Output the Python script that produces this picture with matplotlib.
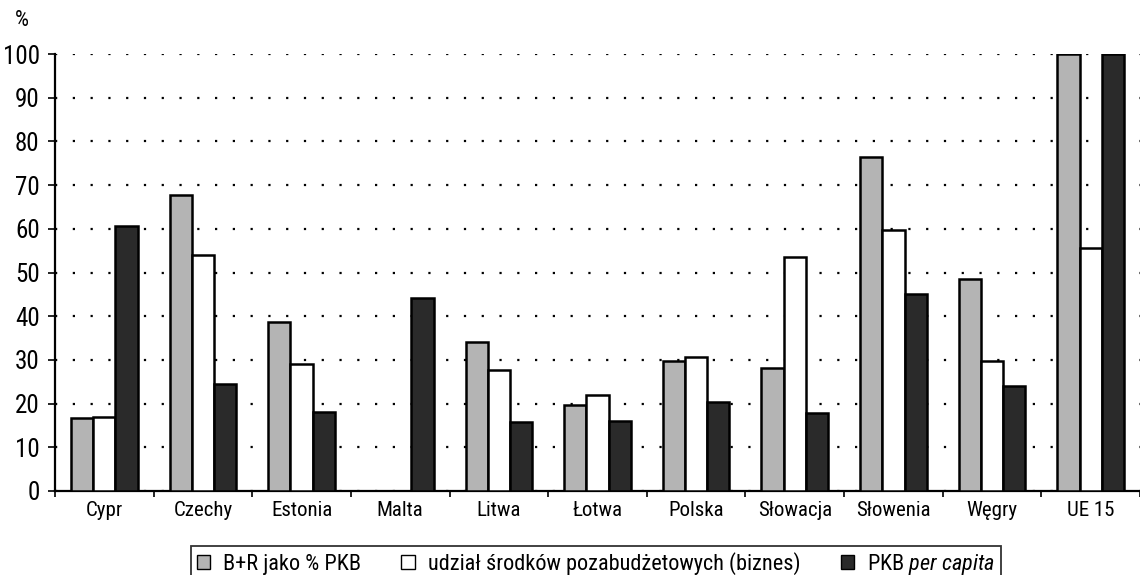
import matplotlib
matplotlib.use("Agg")
import matplotlib.pyplot as plt
import numpy as np
from matplotlib.patches import Patch
from matplotlib import font_manager

categories = ["Cypr", "Czechy", "Estonia", "Malta", "Litwa", "Łotwa", "Polska",
              "Słowacja", "Słowenia", "Węgry", "UE 15"]
br_pkb = [16.6, 67.7, 38.6, 0, 34.0, 19.6, 29.7, 28.2, 76.5, 48.4, 100]
biznes = [17.0, 54.0, 29.0, 0, 27.8, 21.9, 30.7, 53.6, 59.7, 29.7, 55.7]
pkb_pc = [60.6, 24.4, 18.1, 44.1, 15.9, 16.1, 20.4, 17.8, 45.0, 24.0, 100]
yticks = [0, 10, 20, 30, 40, 50, 60, 70, 80, 90, 100]
labels = ["B+R jako % PKB", "udział środków pozabudżetowych (biznes)",
          r"PKB $\mathit{per\ capita}$"]

names = {f.name for f in font_manager.fontManager.ttflist}
fam = "Liberation Sans"
narrow = False
for cand in ["Liberation Sans Narrow", "Roboto Condensed", "DejaVu Sans Condensed",
             "Open Sans Condensed", "Noto Sans Condensed"]:
    if cand in names:
        fam = cand
        narrow = True
        break
plt.rcParams["font.family"] = [fam, "DejaVu Sans"]
plt.rcParams["mathtext.fontset"] = "custom"
plt.rcParams["mathtext.it"] = fam + ":italic"
plt.rcParams["mathtext.rm"] = fam

ysize = 18 if narrow else 16
xsize = 15 if narrow else 14
lsize = 16 if narrow else 13.5

fig = plt.figure(figsize=(11.4, 5.75), dpi=100)
ax = fig.add_axes([55 / 1140, 1 - 491 / 575, 1085 / 1140, (491 - 54) / 575])

x = np.arange(len(categories))
w = 0.225
ax.bar(x - w, br_pkb, w, color="#b4b4b4", edgecolor="black", linewidth=1.8, zorder=3)
ax.bar(x, biznes, w, color="white", edgecolor="black", linewidth=1.8, zorder=3)
ax.bar(x + w, pkb_pc, w, color="#2a2a2a", edgecolor="black", linewidth=1.8, zorder=3)

ax.set_xlim(-0.5, len(categories) - 0.5)
ax.set_ylim(0, 100)
ax.set_yticks(yticks)
ax.set_yticklabels([str(v) for v in yticks], fontsize=ysize)
ax.yaxis.grid(True, color="black", linestyle=(0, (1, 7)), linewidth=1.6, zorder=0)
ax.set_axisbelow(True)

ax.set_xticks(x)
ax.set_xticklabels(categories, fontsize=xsize)
ax.set_xticks(np.arange(-0.5, len(categories), 1.0), minor=True)
ax.tick_params(axis="x", which="major", length=0, pad=7)
ax.tick_params(axis="x", which="minor", length=4, width=1.2, direction="out")
ax.tick_params(axis="y", length=5, width=1.2, pad=6)

for s in ["top", "right"]:
    ax.spines[s].set_visible(False)
for s in ["left", "bottom"]:
    ax.spines[s].set_linewidth(1.6)

fig.text(15 / 1140, 1 - 20 / 575, "%", fontsize=16, ha="left", va="center")

handles = [Patch(facecolor="#b4b4b4", edgecolor="black"),
           Patch(facecolor="white", edgecolor="black"),
           Patch(facecolor="#2a2a2a", edgecolor="black")]
leg = fig.legend(handles, labels, ncol=3, loc="upper center",
                 bbox_to_anchor=(596 / 1140, 1 - 535 / 575), fontsize=lsize,
                 frameon=True, fancybox=False, edgecolor="black",
                 handlelength=0.6, handleheight=0.6, handletextpad=0.6,
                 columnspacing=1.8, borderpad=0.25)
leg.get_frame().set_linewidth(1.3)

fig.savefig("out.png", dpi=100)
